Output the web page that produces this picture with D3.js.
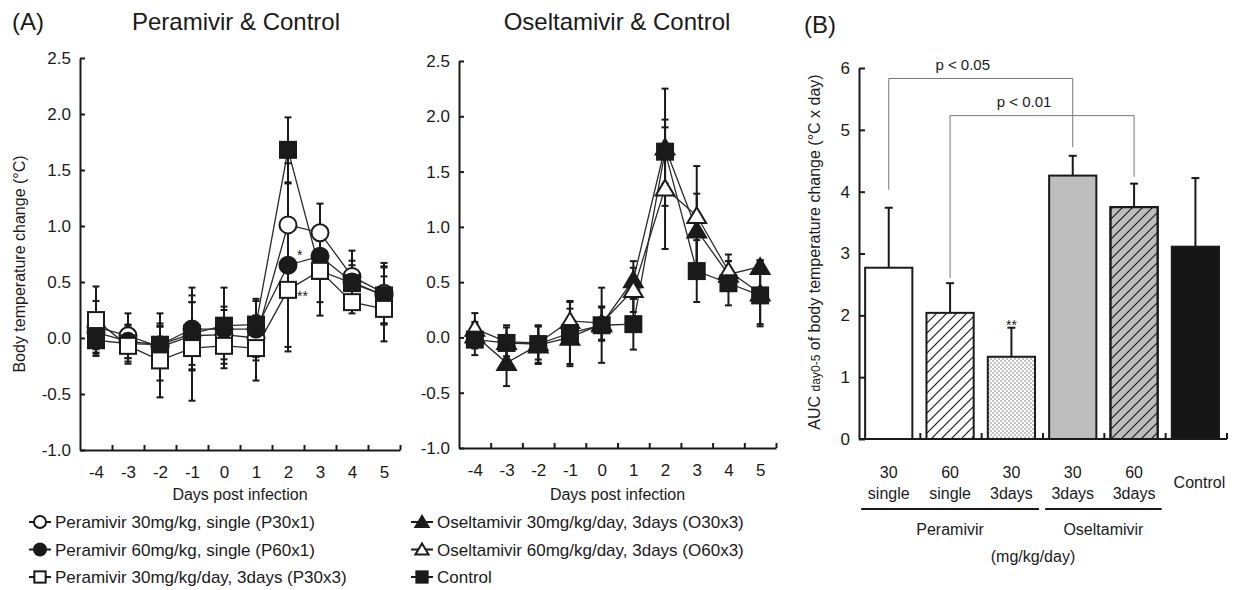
<!DOCTYPE html>
<html>
<head>
<meta charset="utf-8">
<script src="https://cdn.jsdelivr.net/npm/d3@7"></script>
<style>
body { margin: 0; background: #fff; }
svg text { font-family: "Liberation Sans", Arial, sans-serif; fill: #1a1a1a; }
</style>
</head>
<body>
<div id="chart"></div>
<script>
//Data

var days = [-4, -3, -2, -1, 0, 1, 2, 3, 4, 5];
var dayTickMarks = [-3.5, -2.5, -1.5, -0.5, 0.5, 1.5, 2.5, 3.5, 4.5, 5.5];
var tempTicks = [2.5, 2.0, 1.5, 1.0, 0.5, 0.0, -0.5, -1.0];

var p30x1 = [0.10, 0.02, -0.08, 0.02, 0.03, 0.00, 1.01, 0.94, 0.55, 0.40];
var p30x1Sd = [0.23, 0.20, 0.30, 0.30, 0.22, 0.20, 0.55, 0.26, 0.23, 0.27];
var p60x1 = [0.05, -0.03, -0.06, 0.08, 0.08, 0.08, 0.65, 0.73, 0.50, 0.38];
var p60x1Sd = [0.15, 0.15, 0.16, 0.37, 0.20, 0.25, 0.73, 0.20, 0.15, 0.25];
var p30x3 = [0.16, -0.07, -0.20, -0.09, -0.07, -0.09, 0.43, 0.60, 0.32, 0.26];
var p30x3Sd = [0.30, 0.16, 0.33, 0.47, 0.20, 0.29, 0.55, 0.40, 0.10, 0.29];
var o30x3 = [0.02, -0.23, -0.07, 0.00, 0.12, 0.52, 1.72, 0.97, 0.57, 0.64];
var o30x3Sd = [0.12, 0.21, 0.17, 0.26, 0.15, 0.17, 0.53, 0.33, 0.12, 0.05];
var o60x3 = [0.08, -0.04, -0.05, 0.15, 0.13, 0.43, 1.35, 1.10, 0.60, 0.40];
var o60x3Sd = [0.14, 0.13, 0.15, 0.18, 0.15, 0.20, 0.55, 0.45, 0.15, 0.30];
var control = [-0.02, -0.05, -0.06, 0.04, 0.11, 0.12, 1.68, 0.60, 0.49, 0.38];
var controlSd = [0.14, 0.16, 0.17, 0.28, 0.34, 0.23, 0.29, 0.28, 0.20, 0.26];

var barKeys = ["P30x1", "P60x1", "P30x3", "O30x3", "O60x3", "Control"];
var barDose = ["30", "60", "30", "30", "60", "Control"];
var barRegimen = ["single", "single", "3days", "3days", "3days", ""];
var barMeans = [2.77, 2.04, 1.33, 4.26, 3.75, 3.11];
var barSd = [0.97, 0.48, 0.47, 0.32, 0.38, 1.11];
var aucTicks = [0, 1, 2, 3, 4, 5, 6];

var ink = "#1a1a1a";

var svg = d3.select("#chart").append("svg").attr("width", 1236).attr("height", 590);

//Series description for the two line panels (draw order, legend order is separate)
var peramivirSeries = [
    {name: "Peramivir 30mg/kg, single (P30x1)", v: p30x1, sd: p30x1Sd, shape: "circle", fill: "#fff"},
    {name: "Peramivir 60mg/kg, single (P60x1)", v: p60x1, sd: p60x1Sd, shape: "circle", fill: ink},
    {name: "Control", v: control, sd: controlSd, shape: "square", fill: ink},
    {name: "Peramivir 30mg/kg/day, 3days (P30x3)", v: p30x3, sd: p30x3Sd, shape: "square", fill: "#fff"}
];
var peramivirLegend = [0, 1, 3];

var oseltamivirSeries = [
    {name: "Oseltamivir 30mg/kg/day, 3days (O30x3)", v: o30x3, sd: o30x3Sd, shape: "triangle", fill: ink},
    {name: "Oseltamivir 60mg/kg/day, 3days (O60x3)", v: o60x3, sd: o60x3Sd, shape: "triangle", fill: "#fff"},
    {name: "Control", v: control, sd: controlSd, shape: "square", fill: ink}
];
var oseltamivirLegend = [0, 1, 2];

//Draws one marker centred on (cx, cy)
function drawMarker(g, shape, fill, cx, cy, s)
{
    if(shape == "circle")
    {
        g.append("circle").attr("cx", cx).attr("cy", cy).attr("r", s * 0.5)
            .attr("fill", fill).attr("stroke", ink).attr("stroke-width", 2);
    }
    else if(shape == "square")
    {
        g.append("rect").attr("x", cx - s * 0.47).attr("y", cy - s * 0.47)
            .attr("width", s * 0.94).attr("height", s * 0.94)
            .attr("fill", fill).attr("stroke", ink).attr("stroke-width", 2);
    }
    else
    {
        let h = s * 0.5;
        g.append("path")
            .attr("d", "M" + cx + "," + (cy - h) + "L" + (cx + h * 1.1) + "," + (cy + h * 0.85) + "L" + (cx - h * 1.1) + "," + (cy + h * 0.85) + "Z")
            .attr("fill", fill).attr("stroke", ink).attr("stroke-width", 2).attr("stroke-linejoin", "miter");
    }
}

function styleAxis(g)
{
    g.selectAll(".domain").attr("stroke", ink).attr("stroke-width", 2);
    g.selectAll(".tick line").attr("stroke", ink).attr("stroke-width", 2);
    g.selectAll(".tick text").attr("font-size", 17).attr("font-family", "Liberation Sans, Arial, sans-serif").attr("fill", ink);
}

//Line chart panel with error bars, markers, axes and legend
function drawLinePanel(p)
{
    let x = d3.scaleLinear().domain([-4.5, 5.5]).range([p.left, p.right]);
    let y = d3.scaleLinear().domain([-1, 2.5]).range([p.bottom, p.top]);
    let g = svg.append("g");

    //axes
    let yAxis = d3.axisLeft(y).tickValues(tempTicks).tickSize(-5).tickSizeOuter(0).tickPadding(9).tickFormat(d => d.toFixed(1));
    g.append("g").attr("transform", "translate(" + p.left + ",0)").call(yAxis).call(styleAxis);

    let xAxis = d3.axisBottom(x).tickValues(dayTickMarks).tickSize(-5).tickSizeOuter(0).tickFormat("");
    g.append("g").attr("transform", "translate(0," + p.bottom + ")").call(xAxis).call(styleAxis);

    let xLabels = d3.axisBottom(x).tickValues(days).tickSize(0).tickPadding(16).tickFormat(d => String(d));
    g.append("g").attr("transform", "translate(0," + p.bottom + ")").call(xLabels).call(styleAxis)
        .call(a => a.select(".domain").remove());

    g.append("text").attr("x", (p.left + p.right) / 2).attr("y", 500).attr("text-anchor", "middle")
        .attr("font-size", 16).text("Days post infection");

    g.append("text").attr("x", p.titleX).attr("y", 30).attr("text-anchor", "middle")
        .attr("font-size", 24).text(p.title);

    let line = d3.line().x((d, i) => x(days[i])).y(d => y(d));

    //connecting lines
    p.series.forEach(function(s)
    {
        g.append("path").attr("d", line(s.v)).attr("fill", "none").attr("stroke", "#2a2a2a").attr("stroke-width", 1.3);
    });

    //error bars
    p.series.forEach(function(s)
    {
        s.v.forEach(function(v, i)
        {
            let cx = x(days[i]);
            let y0 = y(v - s.sd[i]), y1 = y(v + s.sd[i]);
            g.append("line").attr("x1", cx).attr("x2", cx).attr("y1", y0).attr("y2", y1).attr("stroke", ink).attr("stroke-width", 2);
            g.append("line").attr("x1", cx - 3.5).attr("x2", cx + 3.5).attr("y1", y0).attr("y2", y0).attr("stroke", ink).attr("stroke-width", 2);
            g.append("line").attr("x1", cx - 3.5).attr("x2", cx + 3.5).attr("y1", y1).attr("y2", y1).attr("stroke", ink).attr("stroke-width", 2);
        });
    });

    //markers
    p.series.forEach(function(s)
    {
        s.v.forEach(function(v, i)
        {
            drawMarker(g, s.shape, s.fill, x(days[i]), y(v), 17);
        });
    });

    //significance marks next to points
    (p.stars || []).forEach(function(st)
    {
        let s = p.series[st.series];
        g.append("text").attr("x", x(days[st.day]) + 9).attr("y", y(s.v[st.day]) + st.dy)
            .attr("font-size", 14).text(st.text);
    });

    //legend
    p.legend.forEach(function(idx, k)
    {
        let s = p.series[idx];
        let ly = p.legendY + k * 27.5;
        g.append("line").attr("x1", p.legendX - 11).attr("x2", p.legendX + 11).attr("y1", ly).attr("y2", ly)
            .attr("stroke", ink).attr("stroke-width", 2);
        drawMarker(g, s.shape, s.fill, p.legendX, ly, 12);
        g.append("text").attr("x", p.legendX + 15).attr("y", ly + 6).attr("font-size", 17).text(s.name);
    });

    return g;
}

drawLinePanel({left: 80, right: 400, top: 58, bottom: 450, series: peramivirSeries, legend: peramivirLegend,
    title: "Peramivir & Control", titleX: 236, legendX: 40, legendY: 522,
    stars: [{series: 1, day: 6, text: "*", dy: -5}, {series: 3, day: 6, text: "**", dy: 11}]});

drawLinePanel({left: 459, right: 776, top: 61, bottom: 448, series: oseltamivirSeries, legend: oseltamivirLegend,
    title: "Oseltamivir & Control", titleX: 617, legendX: 422, legendY: 522});

svg.append("text").attr("transform", "translate(25,264) rotate(-90)").attr("text-anchor", "middle")
    .attr("font-size", 16).text("Body temperature change (°C)");

svg.append("text").attr("x", 12).attr("y", 30).attr("font-size", 24).text("(A)");
svg.append("text").attr("x", 804).attr("y", 33).attr("font-size", 24).text("(B)");

//Bar panel (B)

var defs = svg.append("defs");
var hatch = defs.append("pattern").attr("id", "hatch").attr("patternUnits", "userSpaceOnUse").attr("width", 10).attr("height", 10);
hatch.append("path").attr("d", "M0,10L10,0M-2,2L2,-2M8,12L12,8").attr("stroke", ink).attr("stroke-width", 1.2);

var dots = defs.append("pattern").attr("id", "dots").attr("patternUnits", "userSpaceOnUse").attr("width", 4).attr("height", 4);
dots.append("rect").attr("width", 4).attr("height", 4).attr("fill", "#fff");
dots.append("circle").attr("cx", 1).attr("cy", 1).attr("r", 0.75).attr("fill", "#666");
dots.append("circle").attr("cx", 3).attr("cy", 3).attr("r", 0.75).attr("fill", "#666");

var barFills = ["#fff", "url(#hatch)", "url(#dots)", "#bdbdbd", "#bdbdbd", "#151515"];
var barHatchOver = [false, false, false, false, true, false];

var yb = d3.scaleLinear().domain([0, 6]).range([439, 68]);
var xb = d3.scaleBand().domain(barKeys).range([859, 1227]);
var bw = xb.bandwidth();
var barLeft = k => xb(k) + bw * 0.1;
var barW = bw * 0.77;
var barMid = k => barLeft(k) + barW / 2;

var gb = svg.append("g");

gb.selectAll("rect.bar").data(barKeys).enter().append("rect").attr("class", "bar")
    .attr("x", d => barLeft(d)).attr("width", barW)
    .attr("y", (d, i) => yb(barMeans[i])).attr("height", (d, i) => yb(0) - yb(barMeans[i]))
    .attr("fill", (d, i) => barFills[i]).attr("stroke", ink).attr("stroke-width", 2);

//grey bar with hatch on top
gb.selectAll("rect.over").data(barKeys.filter((d, i) => barHatchOver[i])).enter().append("rect").attr("class", "over")
    .attr("x", d => barLeft(d)).attr("width", barW)
    .attr("y", d => yb(barMeans[barKeys.indexOf(d)])).attr("height", d => yb(0) - yb(barMeans[barKeys.indexOf(d)]))
    .attr("fill", "url(#hatch)").attr("stroke", ink).attr("stroke-width", 2);

//upper error bars
barKeys.forEach(function(k, i)
{
    let cx = barMid(k);
    let top = yb(barMeans[i] + barSd[i]);
    gb.append("line").attr("x1", cx).attr("x2", cx).attr("y1", yb(barMeans[i])).attr("y2", top).attr("stroke", ink).attr("stroke-width", 2);
    gb.append("line").attr("x1", cx - 4).attr("x2", cx + 4).attr("y1", top).attr("y2", top).attr("stroke", ink).attr("stroke-width", 2);
});

var yAxisB = d3.axisLeft(yb).tickValues(aucTicks).tickSize(-6).tickSizeOuter(0).tickPadding(9).tickFormat(d3.format("d"));
gb.append("g").attr("transform", "translate(859,0)").call(yAxisB).call(styleAxis);

gb.append("line").attr("x1", 859).attr("x2", 1227).attr("y1", yb(0)).attr("y2", yb(0)).attr("stroke", ink).attr("stroke-width", 2);
barKeys.forEach(function(k)
{
    let tx = xb(k) + bw;
    gb.append("line").attr("x1", tx).attr("x2", tx).attr("y1", yb(0)).attr("y2", yb(0) - 6).attr("stroke", ink).attr("stroke-width", 2);
});

//category labels
barKeys.forEach(function(k, i)
{
    if(barRegimen[i] == "")
    {
        gb.append("text").attr("x", barMid(k) + 4).attr("y", 488).attr("text-anchor", "middle").attr("font-size", 16).text(barDose[i]);
    }
    else
    {
        gb.append("text").attr("x", barMid(k)).attr("y", 478).attr("text-anchor", "middle").attr("font-size", 16).text(barDose[i]);
        gb.append("text").attr("x", barMid(k)).attr("y", 499).attr("text-anchor", "middle").attr("font-size", 16).text(barRegimen[i]);
    }
});

var barGroups = [{name: "Peramivir", from: 0, to: 2}, {name: "Oseltamivir", from: 3, to: 4}];
barGroups.forEach(function(gr)
{
    let x0 = barLeft(barKeys[gr.from]) - 4, x1 = barLeft(barKeys[gr.to]) + barW + 4;
    gb.append("line").attr("x1", x0).attr("x2", x1).attr("y1", 509).attr("y2", 509).attr("stroke", ink).attr("stroke-width", 2);
    gb.append("text").attr("x", (x0 + x1) / 2).attr("y", 535).attr("text-anchor", "middle").attr("font-size", 16).text(gr.name);
});
gb.append("text").attr("x", 1033).attr("y", 562).attr("text-anchor", "middle").attr("font-size", 16).text("(mg/kg/day)");

//significance brackets
var brackets = [
    {from: 0, to: 3, level: 5.83, legs: [4.03, 4.72], label: "p < 0.05"},
    {from: 1, to: 4, level: 5.23, legs: [2.60, 4.24], label: "p < 0.01"}
];
brackets.forEach(function(b)
{
    let xa = barMid(barKeys[b.from]), xc = barMid(barKeys[b.to]);
    let path = "M" + xa + "," + yb(b.legs[0]) + "V" + yb(b.level) + "H" + xc + "V" + yb(b.legs[1]);
    gb.append("path").attr("d", path).attr("fill", "none").attr("stroke", "#777").attr("stroke-width", 1);
    gb.append("text").attr("x", (xa + xc) / 2 - 18).attr("y", yb(b.level) - 9).attr("text-anchor", "middle")
        .attr("font-size", 15).text(b.label);
});

gb.append("text").attr("x", barMid(barKeys[2])).attr("y", yb(barMeans[2] + barSd[2]) + 2).attr("text-anchor", "middle")
    .attr("font-size", 14).text("**");

var ylab = gb.append("text").attr("transform", "translate(820,252) rotate(-90)").attr("text-anchor", "middle").attr("font-size", 16);
ylab.append("tspan").text("AUC ");
ylab.append("tspan").attr("font-size", 12).text("day0-5");
ylab.append("tspan").text(" of body temperature change (°C x day)");

</script>
</body>
</html>
